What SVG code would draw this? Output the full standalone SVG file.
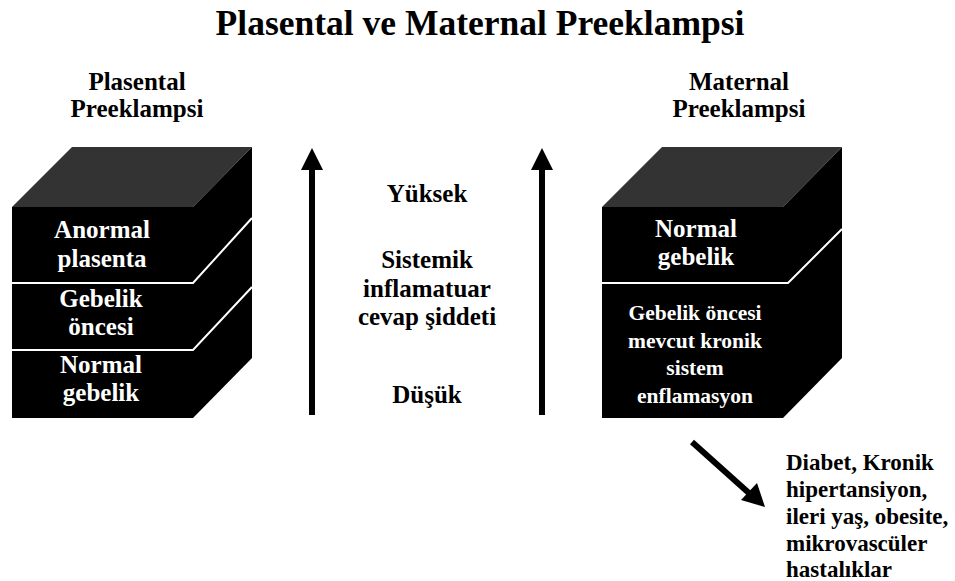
<svg xmlns="http://www.w3.org/2000/svg" width="955" height="581" viewBox="0 0 955 581">
<style>
text{font-family:"Liberation Serif","Times New Roman",serif;font-weight:bold;text-anchor:middle}
.dk{fill:#000}
.wt{fill:#fff}
.top{fill:#333}
.front{fill:#000}
.sep{stroke:#fff;stroke-width:2;fill:none}
.arr{stroke:#000;stroke-width:6;fill:none}
</style>
<text x="480" y="35" font-size="35.5" class="dk">Plasental ve Maternal Preeklampsi</text>
<g id="hdr-left"><text x="137" y="90" font-size="25">Plasental</text><text x="137" y="117" font-size="25">Preeklampsi</text></g>
<g id="hdr-right"><text x="739" y="90" font-size="25">Maternal</text><text x="739" y="117" font-size="25">Preeklampsi</text></g>
<g id="cube-left">
<polygon class="top" points="12,207 72,147 252,147 193,207"/>
<rect class="front" x="12" y="207" width="181" height="211"/>
<polygon class="front" points="193,207 252,147 252,358 193,418"/>
<polyline class="sep" points="12,283 193,283 252,218"/>
<polyline class="sep" points="12,350 193,350 252,287"/>
<g class="wt" font-size="25">
<text x="102" y="238">Anormal</text><text x="102" y="267">plasenta</text>
<text x="101" y="307">Gebelik</text><text x="101" y="335">öncesi</text>
<text x="101" y="373">Normal</text><text x="101" y="401">gebelik</text>
</g>
</g>
<g id="cube-right">
<polygon class="top" points="602,207 662,147 842,147 783,207"/>
<rect class="front" x="602" y="207" width="181" height="211"/>
<polygon class="front" points="783,207 842,147 842,358 783,418"/>
<polyline class="sep" points="602,283 788,283 842,229"/>
<g class="wt">
<text x="696" y="237" font-size="25">Normal</text><text x="696" y="265" font-size="25">gebelik</text>
<text x="695" y="320" font-size="21.5">Gebelik öncesi</text>
<text x="695" y="348" font-size="21.5">mevcut kronik</text>
<text x="695" y="375" font-size="21.5">sistem</text>
<text x="695" y="403" font-size="21.5">enflamasyon</text>
</g>
</g>
<g id="scale-label" class="dk" font-size="25">
<text x="427" y="202">Yüksek</text>
<text x="427" y="268">Sistemik</text>
<text x="427" y="297">inflamatuar</text>
<text x="427" y="325">cevap şiddeti</text>
<text x="427" y="403">Düşük</text>
</g>
<g id="risk-factors" font-size="23">
<text x="786" y="470" style="text-anchor:start">Diabet, Kronik</text>
<text x="786" y="497" style="text-anchor:start">hipertansiyon,</text>
<text x="786" y="524" style="text-anchor:start">ileri yaş, obesite,</text>
<text x="786" y="551" style="text-anchor:start">mikrovascüler</text>
<text x="786" y="577" style="text-anchor:start">hastalıklar</text>
</g>
<g id="connectors">
<line class="arr" x1="312" y1="415" x2="312" y2="168"/>
<polygon points="312,148 301,170 323,170" fill="#000"/>
<line class="arr" x1="542" y1="415" x2="542" y2="168"/>
<polygon points="542,148 531,170 553,170" fill="#000"/>
<line class="arr" x1="692" y1="442" x2="750" y2="494"/>
<polygon points="765,507 741,500 757,483" fill="#000"/>
</g>
</svg>
